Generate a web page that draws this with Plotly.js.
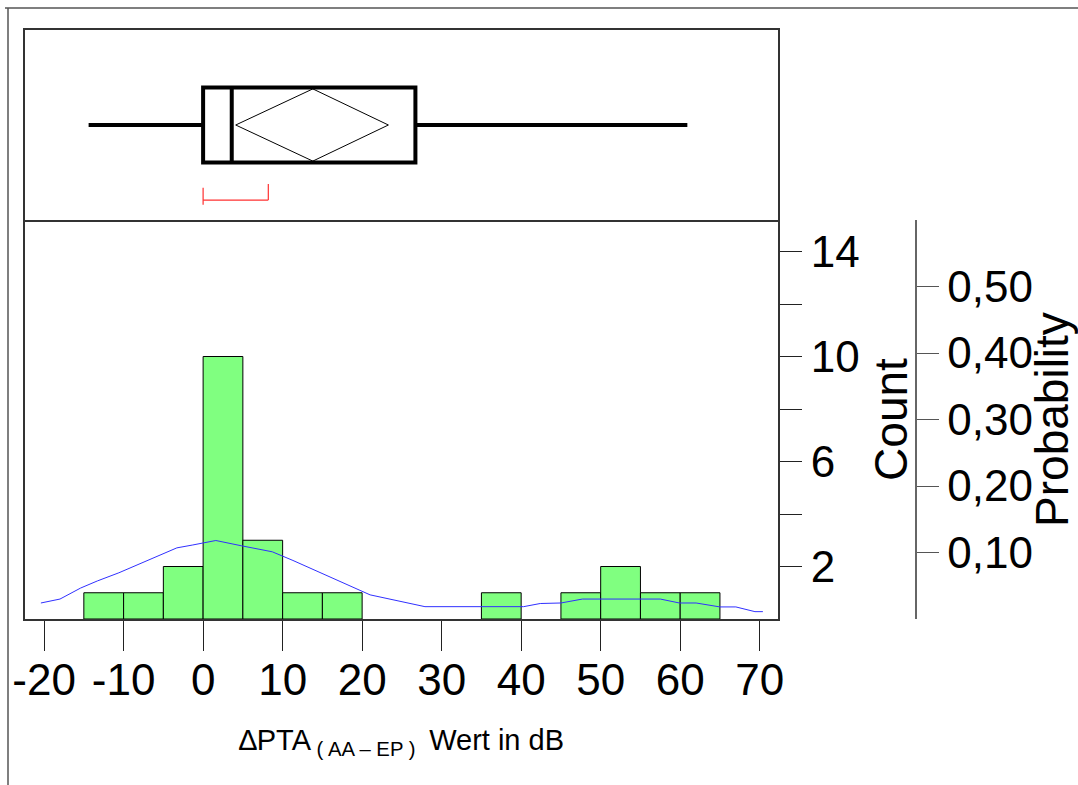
<!DOCTYPE html>
<html>
<head>
<meta charset="utf-8">
<script src="https://cdn.plot.ly/plotly-3.0.1.min.js"></script>
<style>html,body{margin:0;padding:0;background:#fff;}#chart{width:1078px;height:785px;}</style>
</head>
<body>
<div id="chart"></div>
<script>
// ---- data ----
var binStarts = [-15, -10, -5, 0, 5, 10, 15, 35, 45, 50, 55, 60];
var binCounts = [1, 1, 2, 10, 3, 1, 1, 1, 1, 2, 1, 1];
var binWidth = 5;

var curveX = [-20.4, -18.0, -15.4, -13.3, -10.6, -8.3, -6.0, -3.3, -1.3, 1.6, 4.8, 8.7, 11.3, 13.7, 16.2, 18.6, 21.0, 27.9, 40.3, 42.4, 45.0, 47.7, 57.5, 59.9, 62.0, 65.0, 67.0, 69.4, 70.4];
var curveY = [0.61, 0.76, 1.18, 1.45, 1.76, 2.06, 2.37, 2.71, 2.82, 2.99, 2.79, 2.56, 2.23, 1.91, 1.58, 1.26, 0.92, 0.47, 0.47, 0.59, 0.61, 0.76, 0.76, 0.61, 0.61, 0.46, 0.46, 0.28, 0.28];

// box plot summary
var boxLowerFence = [-14.4];
var boxQ1 = [0.0];
var boxMedian = [3.6];
var boxQ3 = [26.7];
var boxUpperFence = [60.9];
var meanDiamond = [4.1, 13.8, 23.3]; // lower CI, mean, upper CI
var shortestHalf = [0.0, 8.2];

var xTickVals = [-20, -10, 0, 10, 20, 30, 40, 50, 60, 70];
var xTickText = ['-20', '-10', '0', '10', '20', '30', '40', '50', '60', '70'];
var countTickVals = [2, 6, 10, 14];
var countMinorTickVals = [4, 8, 12];
var probTickVals = [0.1, 0.2, 0.3, 0.4, 0.5];

// ---- traces ----
var total = binCounts.reduce(function (a, b) { return a + b; }, 0);
var barX = binStarts.map(function (s) { return s + binWidth / 2; });
var barProb = binCounts.map(function (c) { return c / total; });

var FONT = 'Liberation Sans, Arial, sans-serif';
var LINE = '#333333';

var bars = {
  type: 'bar', x: barX, y: binCounts, width: binWidth,
  marker: { color: '#80FF80', line: { color: '#000000', width: 1 } },
  xaxis: 'x', yaxis: 'y'
};

// same bars on the probability scale (invisible; carries the probability axis)
var barsProb = {
  type: 'bar', x: barX, y: barProb, width: binWidth,
  marker: { color: 'rgba(0,0,0,0)', line: { width: 0 } },
  xaxis: 'x', yaxis: 'y3'
};

var curve = {
  type: 'scatter', mode: 'lines', x: curveX, y: curveY,
  line: { color: '#3030FF', width: 1 }, xaxis: 'x', yaxis: 'y'
};

var box = {
  type: 'box', orientation: 'h', y: [0],
  q1: boxQ1, median: boxMedian, q3: boxQ3,
  lowerfence: boxLowerFence, upperfence: boxUpperFence,
  width: 0.79, whiskerwidth: 0, boxpoints: false,
  fillcolor: 'rgba(255,255,255,0)', line: { color: '#000000', width: 4 },
  xaxis: 'x2', yaxis: 'y2'
};

var dh = 0.38;
var diamond = {
  type: 'scatter', mode: 'lines',
  x: [meanDiamond[0], meanDiamond[1], meanDiamond[2], meanDiamond[1], meanDiamond[0]],
  y: [0, dh, 0, -dh, 0],
  line: { color: '#000000', width: 1 }, xaxis: 'x2', yaxis: 'y2'
};

var bracket = {
  type: 'scatter', mode: 'lines',
  x: [shortestHalf[0], shortestHalf[0], null, shortestHalf[0], shortestHalf[1], null, shortestHalf[1], shortestHalf[1]],
  y: [-0.66, -0.84, null, -0.79, -0.79, null, -0.62, -0.79],
  line: { color: '#FF3030', width: 1.2 }, xaxis: 'x2', yaxis: 'y2'
};

var W = 1078, H = 785;
var xDom = [25 / W, 778 / W];
var histDom = [1 - 619 / H, 1 - 220 / H];
var boxDom = [1 - 220 / H, 1 - 30 / H];

var layout = {
  width: W, height: H,
  margin: { l: 0, r: 0, t: 0, b: 0 },
  paper_bgcolor: '#FFFFFF', plot_bgcolor: 'rgba(0,0,0,0)',
  showlegend: false, barmode: 'overlay',
  separators: ',.',
  font: { family: FONT, color: '#000000' },
  xaxis: {
    domain: xDom, anchor: 'y', range: [-22.4, 72.3],
    tickvals: xTickVals, ticktext: xTickText, ticks: 'outside', ticklen: 30, tickwidth: 1, tickcolor: '#222222',
    ticklabelstandoff: -9,
    showline: true, linecolor: LINE, linewidth: 2, showgrid: false, zeroline: false,
    tickfont: { size: 44, family: FONT },
    title: { text: '\u2206PTA<sub> ( AA \u2013 EP ) </sub> Wert in dB', font: { size: 29, family: FONT }, standoff: 27 }
  },
  yaxis: {
    domain: histDom, anchor: 'x', side: 'right', range: [0, 15.2],
    tickvals: countTickVals,
    ticks: 'outside', ticklen: 22, tickwidth: 1, tickcolor: '#222222',
    minor: { tickvals: countMinorTickVals, ticks: 'outside', ticklen: 22, tickwidth: 1, tickcolor: '#222222', showgrid: false },
    showline: true, mirror: true, linecolor: LINE, linewidth: 2, showgrid: false, zeroline: false,
    tickfont: { size: 44, family: FONT },
    title: { text: 'Count', font: { size: 46, family: FONT }, standoff: 16 }
  },
  yaxis3: {
    overlaying: 'y', side: 'right', anchor: 'free', position: 915 / W, range: [0, 0.6],
    tickvals: probTickVals, tickformat: '.2f',
    ticks: 'outside', ticklen: 22, tickwidth: 1, tickcolor: '#555555',
    showline: true, linecolor: '#666666', linewidth: 1.5, showgrid: false, zeroline: false,
    tickfont: { size: 44, family: FONT },
    title: { text: 'Probability', font: { size: 46, family: FONT }, standoff: 0 }
  },
  xaxis2: {
    domain: xDom, anchor: 'y2', matches: 'x', showticklabels: false, ticks: '',
    showline: true, mirror: true, linecolor: LINE, linewidth: 2, showgrid: false, zeroline: false
  },
  yaxis2: {
    domain: boxDom, anchor: 'x2', range: [-1, 1], showticklabels: false, ticks: '',
    showline: true, mirror: true, linecolor: LINE, linewidth: 2, showgrid: false, zeroline: false
  },
  shapes: [
    { type: 'line', xref: 'paper', yref: 'paper', x0: 5 / W, x1: 1, y0: 1 - 8 / H, y1: 1 - 8 / H, line: { color: '#555555', width: 1.5 } },
    { type: 'line', xref: 'paper', yref: 'paper', x0: 8 / W, x1: 8 / W, y0: 1 - 8 / H, y1: 0, line: { color: '#555555', width: 1.5 } }
  ]
};

Plotly.newPlot('chart', [barsProb, bars, curve, box, diamond, bracket], layout, { displayModeBar: false, staticPlot: true });
</script>
</body>
</html>
